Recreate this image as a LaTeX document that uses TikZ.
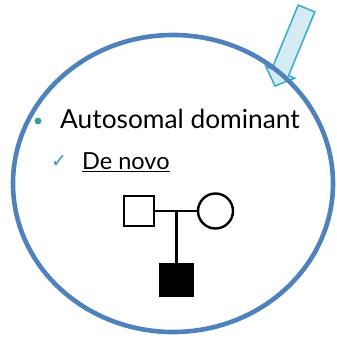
\documentclass[tikz,border=0pt]{standalone}
\usepackage{fontspec}
\setmainfont{Lato}
\newfontfamily\symfont{DejaVu Sans}
\definecolor{ringblue}{HTML}{4F81BD}
\definecolor{arrowfill}{HTML}{D5EBF3}
\definecolor{arrowline}{HTML}{3CAFCB}
\definecolor{bulletteal}{HTML}{3A9AA8}
\begin{document}
\begin{tikzpicture}[x=1pt,y=-1pt,
  ped/.style={draw=black,line width=2.4pt},
  bodytext/.style={inner sep=0pt,anchor=base west,text=black}]
\useasboundingbox (0,0) rectangle (337,338);
\fill[white] (0,0) rectangle (337,338);
% callout arrow
\draw[arrowline,fill=arrowfill,line width=1.6pt,line join=miter]
  (298.2,5.1) -- (314.8,11.9) -- (288.5,75.7) -- (294.6,78.2) -- (275,86)
  -- (265.8,66.4) -- (271.9,68.9) -- cycle;
% ring
\draw[ringblue,line width=4.6pt] (173,183.5) ellipse [x radius=160, y radius=148.5];
% bullet text
\fill[bulletteal] (38,121) circle (3.4);
\node[bodytext,font=\fontsize{26.3}{30}\selectfont] (t1) at (60,128.5) {Autosomal dominant};
\node[inner sep=0pt,text=bulletteal,font=\symfont\fontsize{19}{21}\selectfont] (ck) at (59,162) {✓};
\node[bodytext,font=\fontsize{23.5}{27}\selectfont] (t2) at (82,169.5) {\underline{De novo}};
% pedigree
\node[ped,minimum size=30pt,inner sep=0pt] (father) at (139,211) {};
\node[ped,circle,minimum size=35pt,inner sep=0pt] (mother) at (215.5,211) {};
\node[ped,fill=black,minimum size=32pt,inner sep=0pt] (child) at (176.5,280) {};
\coordinate (mate) at (176.5,211);
\draw[ped] (father.east) -- (mother.west);
\draw[ped] (mate) -- (child.north);
\end{tikzpicture}
\end{document}
